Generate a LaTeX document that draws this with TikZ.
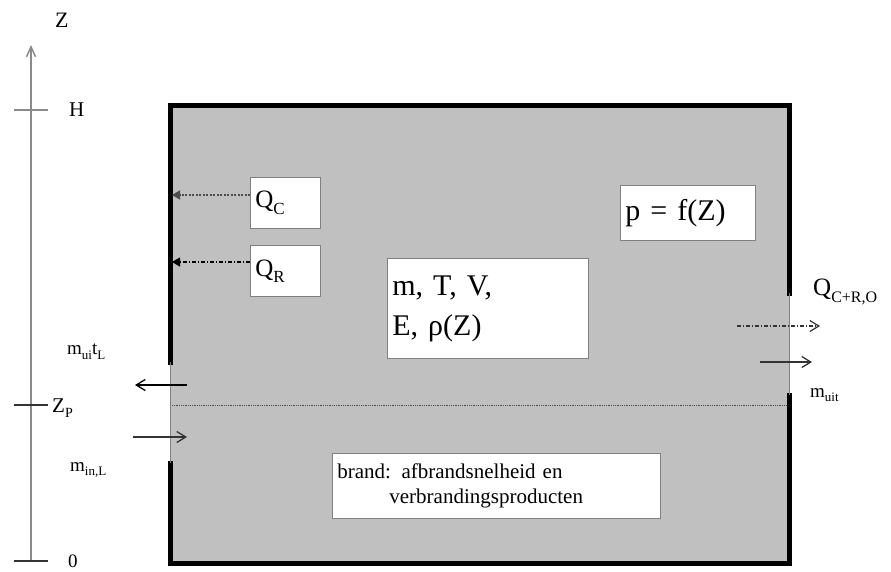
\documentclass[tikz,border=0pt]{standalone}
\usepackage{fontspec}
\setmainfont{Liberation Serif}
\usetikzlibrary{arrows.meta}
\definecolor{fillg}{HTML}{C0C0C0}
\definecolor{axisg}{HTML}{8A8A8A}
\definecolor{boxg}{HTML}{808080}
\newcommand{\sbs}[2][14]{\raisebox{-0.25em}{\fontsize{#1}{#1}\selectfont #2}}
\begin{document}
\begin{tikzpicture}[x=1pt,y=-1pt,
  wall/.style={line width=5pt,line cap=rect},
  wbox/.style={fill=white,draw=boxg,line width=0.8pt,align=left,anchor=north west,inner xsep=5pt,inner ysep=4pt},
  lbl/.style={inner sep=0pt,anchor=west},
  flow/.style={line width=1.3pt,-{Straight Barb[length=9pt,width=11pt]}},
  heat/.style={line width=1.2pt,dash pattern=on 2pt off 1.5pt,-{Triangle[length=8pt,width=9pt]}}]
\useasboundingbox (0,0) rectangle (891,571);
% compartment
\fill[fillg] (170,105) rectangle (789,563);
\draw[wall] (170,362) -- (170,105) -- (789,105) -- (789,293);
\draw[wall] (170,463) -- (170,563) -- (789,563) -- (789,395);
\draw[boxg,line width=1pt] (170,362) -- (170,463);
\draw[boxg,line width=1pt] (789,293) -- (789,395);
\draw[black!70,line width=0.8pt,densely dotted] (172,405) -- (787,405);
% axis
\coordinate (a0) at (31,561);
\coordinate (atop) at (31,45);
\draw[axisg,line width=1.5pt,-{Straight Barb[length=10pt,width=9pt]}] (a0) -- (atop);
\draw[axisg,line width=1.5pt] (14,110) -- (48,110);
\draw[black!80,line width=1.3pt] (14,405) -- (48,405);
\draw[black!80,line width=1.3pt] (14,561) -- (48,561);
\node[lbl,font=\fontsize{22}{22}\selectfont] (zl) at (55,20) {Z};
\node[lbl,font=\fontsize{21}{21}\selectfont] (hl) at (69,110) {H};
\node[lbl,font=\fontsize{21}{21}\selectfont] (zpl) at (52,408) {Z\sbs[14]{P}};
\node[lbl,font=\fontsize{19}{19}\selectfont] (ol) at (68,561) {0};
% boxes
\node[wbox,minimum width=70pt,minimum height=51pt,text width=60pt,font=\fontsize{25}{25}\selectfont] (qc) at (250,177) {Q\sbs[17]{C}};
\node[wbox,minimum width=70pt,minimum height=51pt,text width=60pt,font=\fontsize{25}{25}\selectfont] (qr) at (250,245) {Q\sbs[17]{R}};
\node[wbox,minimum width=201pt,minimum height=100pt,text width=191pt,font=\fontsize{30}{40}\selectfont,inner ysep=8pt] (st) at (387,258) {m, T, V,\\E, ρ(Z)};
\node[wbox,minimum width=135pt,minimum height=55pt,text width=125pt,font=\fontsize{30}{30}\selectfont,inner ysep=10pt] (pf) at (620,185) {p = f(Z)};
\node[wbox,minimum width=328pt,minimum height=65pt,text width=318pt,font=\fontsize{21}{25}\selectfont,inner ysep=7pt] (br) at (332,453) {brand: afbrandsnelheid en\\\hspace*{52pt}verbrandingsproducten};
% heat arrows to the left wall
\coordinate (qca) at (250,195);
\coordinate (qcb) at (172,195);
\coordinate (qra) at (250,262);
\coordinate (qrb) at (172,262);
\draw[heat,black!70] (qca) -- (qcb);
\draw[heat,black,dash pattern=on 4pt off 2pt on 1pt off 2pt] (qra) -- (qrb);
% left opening flows
\coordinate (lo1) at (187,385);
\coordinate (lo2) at (135,385);
\coordinate (li1) at (133,437);
\coordinate (li2) at (187,437);
\draw[flow] (lo1) -- (lo2);
\draw[flow,black!80] (li1) -- (li2);
\node[lbl,font=\fontsize{19}{19}\selectfont] (mout) at (67,352) {m\sbs[13]{ui}t\sbs[13]{L}};
\node[lbl,font=\fontsize{19}{19}\selectfont] (min) at (70,470) {m\sbs[13]{in,L}};
% right opening flows
\coordinate (ro1) at (737,326);
\coordinate (ro2) at (820,326);
\coordinate (rm1) at (760,362);
\coordinate (rm2) at (812,362);
\draw[line width=1.2pt,black!80,dash pattern=on 4pt off 2pt on 1pt off 2pt,-{Straight Barb[length=9pt,width=11pt]}] (ro1) -- (ro2);
\draw[flow,black!80] (rm1) -- (rm2);
\node[lbl,font=\fontsize{25}{25}\selectfont] (qo) at (813,292) {Q\sbs[16]{C+R,O}};
\node[lbl,font=\fontsize{19}{19}\selectfont] (mu) at (810,395) {m\sbs[13]{uit}};
\end{tikzpicture}
\end{document}
